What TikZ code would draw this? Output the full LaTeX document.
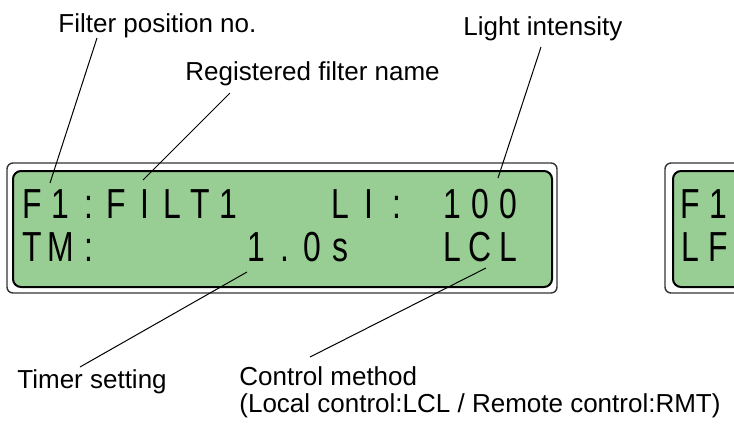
\documentclass[tikz,border=0pt]{standalone}
\usepackage{fontspec}
\setmainfont{Liberation Sans}
\usepackage{graphicx}
\definecolor{lcdgreen}{RGB}{152,206,148}
\newcommand{\lcd}[1]{\scalebox{0.76}[1]{#1}}
\tikzset{
  lbl/.style={anchor=base west, inner sep=0pt, font=\fontsize{13}{13.5}\selectfont},
  lcdchar/.style={anchor=base, inner sep=0pt, font=\fontsize{21}{21}\selectfont},
  frame/.style={draw=black!80, line width=0.7pt, fill=white, rounded corners=3pt},
  panel/.style={draw=black, line width=1pt, fill=lcdgreen, rounded corners=4pt},
  leader/.style={line width=0.5pt},
}

\begin{document}
\begin{tikzpicture}[x=0.5pt, y=-0.5pt]
    \useasboundingbox (0,0) rectangle (734,425);

    % main display
    \draw[frame] (7,163) rectangle (557,293);
    \draw[panel] (13,171) rectangle (552,287);
    \foreach \c [count=\i from 0] in {F,1,:,F,I,L,T,1,{},{},{},L,I,:,{},1,0,0}
      \node[lcdchar] (ra-\i) at ({32.5+28*\i},218.5) {\lcd{\c}};
    \foreach \c [count=\i from 0] in {T,M,:,{},{},{},{},{},1,{.},0,s,{},{},{},L,C,L}
      \node[lcdchar] (rb-\i) at ({32.5+28*\i},261) {\lcd{\c}};

    % second display, cut off at the right
    \begin{scope}
      \clip (0,0) rectangle (734,425);
      \draw[frame] (665,163) rectangle (1215,293);
      \draw[panel] (673,171) rectangle (1210,287);
    \end{scope}
    \node[lcdchar] (rc-0) at (690.5,218.5) {\lcd{F}};
    \node[lcdchar] (rc-1) at (718.5,218.5) {\lcd{1}};
    \node[lcdchar] (rd-0) at (690.5,261) {\lcd{L}};
    \node[lcdchar] (rd-1) at (718.5,261) {\lcd{F}};

    % labels
    \node[lbl] (fpos) at (58,32) {Filter position no.};
    \node[lbl] (fname) at (185,80) {Registered filter name};
    \node[lbl] (light) at (463,35) {Light intensity};
    \node[lbl] (timer) at (17,388) {Timer setting};
    \node[lbl, align=left] (ctrl) at (239,412) {Control method\\(Local control:LCL / Remote control:RMT)};

    % leader lines
    \coordinate (fpos-a) at (97,38);
    \coordinate (fpos-b) at (50,183);
    \coordinate (fname-a) at (230,93);
    \coordinate (fname-b) at (143,180);
    \coordinate (light-a) at (541,47);
    \coordinate (light-b) at (498,178);
    \coordinate (timer-a) at (80,367);
    \coordinate (timer-b) at (247,272);
    \coordinate (ctrl-a) at (310,357);
    \coordinate (ctrl-b) at (486,268);
    \draw[leader] (fpos-a) -- (fpos-b);
    \draw[leader] (fname-a) -- (fname-b);
    \draw[leader] (light-a) -- (light-b);
    \draw[leader] (timer-a) -- (timer-b);
    \draw[leader] (ctrl-a) -- (ctrl-b);
\end{tikzpicture}
\end{document}
